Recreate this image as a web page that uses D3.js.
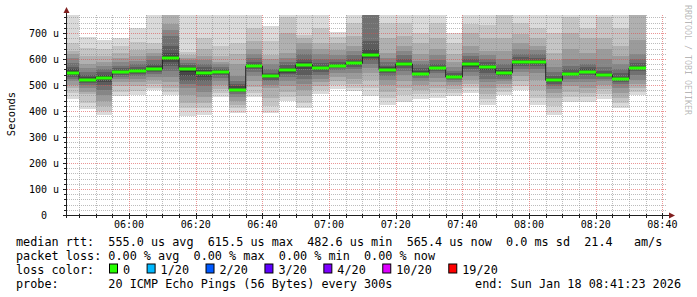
<!DOCTYPE html>
<html>
<head>
<meta charset="utf-8">
<script src="https://cdn.jsdelivr.net/npm/d3@7"></script>
<style>
  body { margin: 0; background: #fff; }
  text { font-family: "DejaVu Sans Mono", monospace; white-space: pre; }
</style>
</head>
<body>
<svg id="chart" width="697" height="297"></svg>
<script>
// 5 minute buckets (start time of each bucket)
const barTimes = ["05:40","05:45","05:50","05:55","06:00","06:05","06:10","06:15","06:20","06:25",
  "06:30","06:35","06:40","06:45","06:50","06:55","07:00","07:05","07:10","07:15",
  "07:20","07:25","07:30","07:35","07:40","07:45","07:50","07:55","08:00","08:05",
  "08:10","08:15","08:20","08:25","08:30"];

// median rtt per bucket, in microseconds
const medians = [548, 520, 528, 551, 555, 561, 604, 563, 547, 550,
  482.6, 573, 533, 556, 578, 564, 575, 583, 615.5, 559,
  581, 543, 566, 531, 579, 569, 547, 588, 587, 518,
  543, 551, 538, 523, 565.4];

// sorted ping times per bucket (the smoke), in microseconds
const pings = [
  [448,470,489,500,515,525,532,538,543,555,562,570,585,605,620,631,663,790],
  [406,430,464,475,488,500,508,513,517,523,530,540,552,565,580,610,644,685],
  [384,400,418,440,460,480,500,512,522,533,540,550,562,575,590,612,640,672],
  [457,475,495,510,522,532,540,545,548,554,558,565,575,590,605,625,650,680],
  [460,478,495,510,525,535,542,548,552,558,563,570,580,592,610,635,665,718],
  [479,490,505,520,532,542,550,555,558,565,572,582,595,610,625,640,663,800],
  [461,475,489,510,530,555,575,590,598,612,625,650,688,710,733,790,800,820],
  [381,410,430,460,490,505,515,535,550,566,570,577,585,595,605,615,627,800],
  [385,410,430,455,475,495,515,530,540,552,558,568,580,595,610,640,681,800],
  [455,470,485,500,515,528,537,543,547,553,557,562,570,580,590,610,650,800],
  [392,410,425,440,455,465,472,478,480,486,495,505,515,535,580,620,661,780],
  [453,470,494,515,535,550,560,565,569,577,582,590,605,620,640,668,720,790],
  [392,420,450,488,500,514,520,526,530,537,542,546,560,580,600,617,670,727],
  [437,455,475,495,515,530,542,548,552,560,565,578,590,605,623,700,760,800],
  [411,430,456,480,505,525,540,560,572,582,588,600,620,640,660,680,694,800],
  [466,480,495,510,525,540,550,556,560,568,575,585,600,620,640,661,720,800],
  [485,500,515,530,545,557,565,570,573,578,582,590,600,615,635,660,685,705],
  [476,490,505,525,545,560,570,577,580,587,592,600,615,630,650,690,740,800],
  [457,490,521,545,565,579,595,605,611,624,640,669,775,790,810,830,850,880],
  [425,450,475,500,520,535,545,550,555,563,568,575,590,605,624,680,740,800],
  [435,460,490,515,540,555,565,572,577,585,590,600,615,630,650,688,740,800],
  [448,465,480,500,515,528,535,539,541,547,553,565,580,592,620,660,701,800],
  [451,470,490,510,528,545,555,560,563,570,575,582,595,615,640,682,740,800],
  [457,470,485,500,510,518,523,527,529,534,538,545,555,570,590,620,660,701],
  [470,490,505,520,535,550,563,570,575,583,590,600,610,624,650,700,733,800],
  [425,445,465,490,510,525,545,558,564,573,578,590,600,615,631,680,730,800],
  [461,475,490,505,515,525,533,540,544,552,557,565,580,600,630,680,790,800],
  [479,495,515,535,550,562,573,580,585,592,598,608,620,640,660,695,740,800],
  [425,450,480,520,545,560,572,580,584,590,596,605,620,635,650,680,720,800],
  [384,420,450,470,485,497,505,511,515,522,528,535,550,570,595,624,700,800],
  [435,455,475,495,512,525,533,538,541,547,552,560,575,600,640,700,760,800],
  [435,455,470,490,510,525,538,545,549,555,560,568,580,600,625,680,720,800],
  [446,465,485,500,515,525,530,534,536,541,546,555,570,600,640,680,760,800],
  [410,430,450,470,490,505,513,518,521,526,532,545,560,580,610,650,720,800],
  [461,475,489,505,520,540,553,560,563,570,575,585,600,620,675,790,800,800]
];

const yTicks = [0, 100, 200, 300, 400, 500, 600, 700];
const yTickLabels = ["0  ", "100 u", "200 u", "300 u", "400 u", "500 u", "600 u", "700 u"];
const yMax = 769.4;

const lossLabels = ["0", "1/20", "2/20", "3/20", "4/20", "10/20", "19/20"];
const lossColors = ["#26ff00", "#00b8ff", "#0059ff", "#5e00ff", "#7e00ff", "#dd00ff", "#ff0000"];

const day = "2026-01-18";
const startTime = "05:41:23";
const endTime = "08:41:23";

const legendLines = [
  "median rtt:  555.0 us avg  615.5 us max  482.6 us min  565.4 us now  0.0 ms sd  21.4   am/s",
  "packet loss: 0.00 % avg  0.00 % max  0.00 % min  0.00 % now",
  "loss color:",
  "probe:       20 ICMP Echo Pings (56 Bytes) every 300s"
];
const endLabel = "end: Sun Jan 18 08:41:23 2026";

const svg = d3.select("#chart");
const parse = d3.timeParse("%Y-%m-%d %H:%M:%S");

const plotL = 67, plotR = 667, plotT = 15, plotB = 215;

const x = d3.scaleTime()
  .domain([parse(`${day} ${startTime}`), parse(`${day} ${endTime}`)])
  .range([plotL, plotR]);
const y = d3.scaleLinear().domain([0, yMax]).range([plotB, plotT]);

// clip the smoke to the canvas
svg.append("clipPath").attr("id", "plot-clip")
  .append("rect")
  .attr("x", plotL).attr("y", plotT)
  .attr("width", plotR - plotL).attr("height", plotB - plotT);

const bars = barTimes.map((t, i) => {
  const t0 = parse(`${day} ${t}:00`);
  return { t0, t1: d3.timeMinute.offset(t0, 5), median: medians[i], pings: pings[i] };
});

// smoke: outer ranks lightest, inner ranks darker (smokeping style)
const half = 9;
const smokeGroup = svg.append("g").attr("clip-path", "url(#plot-clip)");
bars.forEach(b => {
  const x0 = Math.round(x(b.t0)), x1 = Math.round(x(b.t1));
  for (let k = 1; k <= half; k++) {
    const c = Math.floor(190 / half * (half - k)) + 50;
    const lo = b.pings[k - 1], hi = b.pings[18 - k];
    smokeGroup.append("rect")
      .attr("x", x0)
      .attr("width", x1 - x0)
      .attr("y", Math.round(y(hi)))
      .attr("height", Math.round(y(lo)) - Math.round(y(hi)))
      .attr("fill", d3.rgb(c, c, c));
  }
});

// grid
const grid = svg.append("g");
const crisp = v => Math.round(v) + 0.5;
d3.range(20, yMax, 20).forEach(v => {
  const major = v % 100 === 0;
  grid.append("line")
    .attr("x1", plotL).attr("x2", plotR)
    .attr("y1", crisp(y(v))).attr("y2", crisp(y(v)))
    .attr("stroke", major ? "rgba(222,79,79,0.6)" : "rgba(143,143,143,0.6)")
    .attr("stroke-dasharray", "1,1");
});
x.ticks(d3.timeMinute.every(5)).forEach(t => {
  const major = t.getMinutes() % 20 === 0;
  grid.append("line")
    .attr("x1", crisp(x(t))).attr("x2", crisp(x(t)))
    .attr("y1", plotT).attr("y2", plotB)
    .attr("stroke", major ? "rgba(222,79,79,0.6)" : "rgba(143,143,143,0.6)")
    .attr("stroke-dasharray", "1,1");
});

// median: thin dark step line, then loss-coloured bar on each bucket
const stepPts = bars.map(b => [x(b.t0), y(b.median)]);
stepPts.push([x(bars[bars.length - 1].t1), y(bars[bars.length - 1].median)]);
svg.append("path")
  .attr("clip-path", "url(#plot-clip)")
  .attr("d", d3.line().curve(d3.curveStepAfter)(stepPts))
  .attr("fill", "none")
  .attr("stroke", "#202020")
  .attr("stroke-width", 1);

svg.append("g").attr("clip-path", "url(#plot-clip)")
  .selectAll("rect").data(bars).join("rect")
  .attr("x", d => Math.round(x(d.t0)))
  .attr("width", d => Math.round(x(d.t1)) - Math.round(x(d.t0)))
  .attr("y", d => Math.round(y(d.median)) - 1.5)
  .attr("height", 3)
  .attr("fill", lossColors[0]);

// axes
const axisCol = "#1f1f1f", arrowCol = "#801f1f";
svg.append("line").attr("x1", plotL - 3).attr("x2", plotR + 3)
  .attr("y1", plotB + 0.5).attr("y2", plotB + 0.5).attr("stroke", axisCol);
svg.append("line").attr("x1", plotL - 0.5).attr("x2", plotL - 0.5)
  .attr("y1", plotB + 3).attr("y2", plotT - 4).attr("stroke", axisCol);
svg.append("path").attr("d", `M${plotL - 3.5},${plotT - 2} L${plotL + 2.5},${plotT - 2} L${plotL - 0.5},${plotT - 8} Z`)
  .attr("fill", arrowCol);
svg.append("path").attr("d", `M${plotR + 2},${plotB - 2.5} L${plotR + 2},${plotB + 3.5} L${plotR + 8},${plotB + 0.5} Z`)
  .attr("fill", arrowCol);

// axis ticks
d3.range(0, yMax, 20).forEach(v => {
  const len = v % 100 === 0 ? 3 : 2;
  svg.append("line").attr("x1", plotL - 1 - len).attr("x2", plotL)
    .attr("y1", crisp(y(v))).attr("y2", crisp(y(v))).attr("stroke", axisCol);
});
x.ticks(d3.timeMinute.every(5)).forEach(t => {
  const len = t.getMinutes() % 20 === 0 ? 3 : 2;
  svg.append("line").attr("x1", crisp(x(t))).attr("x2", crisp(x(t)))
    .attr("y1", plotB - len + 1).attr("y2", plotB + len + 1).attr("stroke", axisCol);
});

// y labels
svg.append("g").selectAll("text").data(yTicks).join("text")
  .attr("x", 59)
  .attr("y", d => y(d))
  .attr("dy", "0.36em")
  .attr("text-anchor", "end")
  .attr("font-size", "10px")
  .text((d, i) => yTickLabels[i]);

// x labels
svg.append("g").selectAll("text").data(x.ticks(d3.timeMinute.every(20))).join("text")
  .attr("x", d => x(d))
  .attr("y", 228)
  .attr("text-anchor", "middle")
  .attr("font-size", "10px")
  .text(d3.timeFormat("%H:%M"));

// axis title
svg.append("text")
  .attr("transform", "translate(15,114) rotate(-90)")
  .attr("text-anchor", "middle")
  .attr("font-size", "10.5px")
  .text("Seconds");

// watermark
svg.append("text")
  .attr("transform", "translate(685,5) rotate(90)")
  .attr("font-size", "8.3px")
  .attr("fill", "rgba(0,0,0,0.3)")
  .text("RRDTOOL / TOBI OETIKER");

// legend
const lgFont = 11.8, cw = lgFont * 0.602;
const rowY = [245.5, 259.5, 273.5, 288];
legendLines.forEach((line, i) => {
  svg.append("text").attr("x", 16).attr("y", rowY[i])
    .attr("font-size", lgFont + "px").text(line);
});
svg.append("text").attr("x", 681).attr("y", rowY[3])
  .attr("text-anchor", "end").attr("font-size", lgFont + "px").text(endLabel);

let bx = 109;
lossLabels.forEach((lab, i) => {
  svg.append("rect")
    .attr("x", bx + 0.5).attr("y", rowY[2] - 9.5)
    .attr("width", 8).attr("height", 9)
    .attr("fill", lossColors[i]).attr("stroke", "#000");
  svg.append("text").attr("x", bx + 14).attr("y", rowY[2])
    .attr("font-size", lgFont + "px").text(lab);
  bx = bx + 14 + lab.length * cw + 16.5;
});
</script>
</body>
</html>
